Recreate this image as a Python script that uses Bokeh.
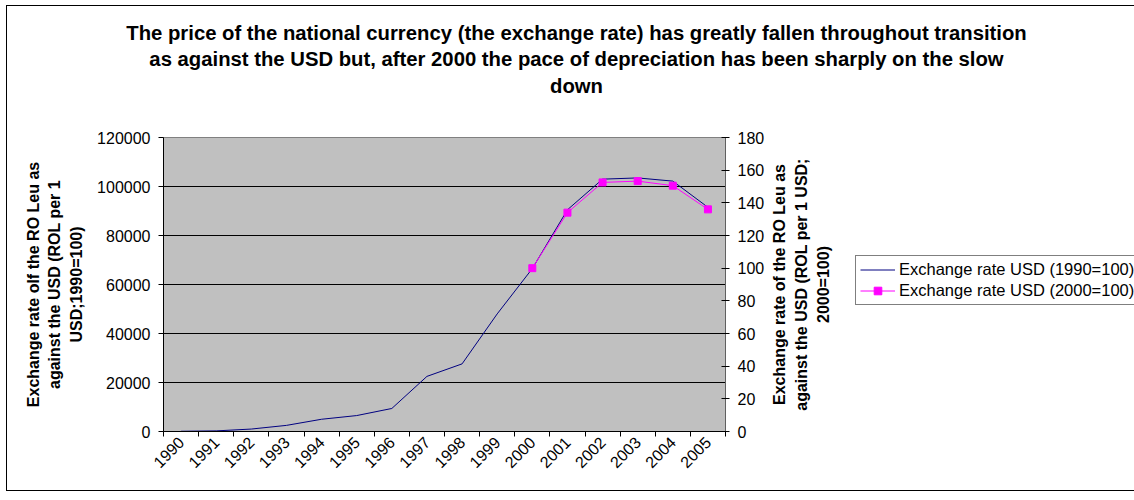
import math
from bokeh.plotting import figure
from bokeh.models import (Range1d, LinearAxis, FixedTicker, SingleIntervalTicker,
                          BasicTickFormatter, Label, Legend, LegendItem)
from bokeh.layouts import column, row
from bokeh.embed import file_html
from bokeh.resources import INLINE

# ---------------- data ----------------
years = [1990, 1991, 1992, 1993, 1994, 1995, 1996, 1997,
         1998, 1999, 2000, 2001, 2002, 2003, 2004, 2005]
usd_1990 = [100, 250, 1000, 2500, 5000, 6500, 9400, 22500,
            27600, 48000, 66500, 90500, 103000, 103500, 102200, 91500]
years_2000 = [2000, 2001, 2002, 2003, 2004, 2005]
usd_2000 = [100, 134, 152.5, 153.3, 150.5, 136]

title_text = ("The price of the national currency (the exchange rate) has greatly fallen throughout transition\n"
              "as against the USD but, after 2000 the pace of depreciation has been sharply on the slow\n"
              "down")
left_title = "Exchange rate olf the RO Leu as\nagainst the USD (ROL per 1\nUSD;1990=100)"
right_title = "Exchange rate of the RO Leu as\nagainst the USD (ROL per 1 USD;\n2000=100)"
name_1990 = "Exchange rate USD (1990=100)"
name_2000 = "Exchange rate USD (2000=100)"

FONT = "Liberation Sans"
NAVY = "#000080"
PINK = "#FF00FF"

# ---------------- title strip ----------------
top = figure(width=1127, height=119, x_range=Range1d(0, 1127), y_range=Range1d(0, 119),
             x_axis_type=None, y_axis_type=None, min_border=0,
             output_backend="svg", toolbar_location=None)
top.outline_line_color = None
top.grid.visible = False
top.add_layout(Label(x=569, y=104, text=title_text, text_align="center", text_baseline="top",
                     text_font=FONT, text_font_size="20.3px", text_font_style="bold",
                     text_line_height=1.22, text_color="#000000"))

# ---------------- main chart ----------------
p = figure(width=760, height=365,
           min_border_left=156, min_border_right=41,
           min_border_top=12, min_border_bottom=59,
           x_range=Range1d(years[0] - 0.5, years[-1] + 0.5),
           y_range=Range1d(0, 120000),
           output_backend="svg", toolbar_location=None)
p.background_fill_color = "#C0C0C0"
p.border_fill_color = "white"
p.outline_line_color = "#808080"
p.outline_line_width = 1
p.extra_y_ranges = {"r": Range1d(0, 180)}

bounds = [y - 0.5 for y in years] + [years[-1] + 0.5]
xa = p.xaxis[0]
xa.ticker = FixedTicker(ticks=years, minor_ticks=bounds)
xa.major_tick_out = 0
xa.major_tick_in = 0
xa.minor_tick_out = 5
xa.minor_tick_in = 0
xa.minor_tick_line_color = "#000000"
xa.axis_line_color = "#000000"
xa.major_label_orientation = math.pi / 4
xa.major_label_text_font = FONT
xa.major_label_text_font_size = "16px"
xa.major_label_text_color = "#000000"
xa.major_label_standoff = 3

ya = p.yaxis[0]
ya.ticker = SingleIntervalTicker(interval=20000)
ya.formatter = BasicTickFormatter(use_scientific=False)
ya.major_tick_out = 5
ya.major_tick_in = 0
ya.minor_tick_out = 0
ya.minor_tick_in = 0
ya.axis_line_color = "#000000"
ya.major_label_text_font = FONT
ya.major_label_text_font_size = "16px"
ya.major_label_text_color = "#000000"
ya.major_label_standoff = 8
ya.axis_label = left_title
ya.axis_label_text_font = FONT
ya.axis_label_text_font_size = "16px"
ya.axis_label_text_font_style = "bold"
ya.axis_label_text_color = "#000000"
ya.axis_label_text_line_height = 1.28
ya.axis_label_standoff = 9

ra = LinearAxis(y_range_name="r", ticker=SingleIntervalTicker(interval=20))
ra.major_tick_out = 4
ra.major_tick_in = 4
ra.minor_tick_out = 0
ra.minor_tick_in = 0
ra.axis_line_color = "#606060"
ra.major_tick_line_color = "#000000"
ra.major_label_text_font = FONT
ra.major_label_text_font_size = "16px"
ra.major_label_text_color = "#000000"
ra.major_label_standoff = 8
p.add_layout(ra, "right")

p.xgrid.visible = False
p.ygrid.ticker = SingleIntervalTicker(interval=20000)
p.ygrid.grid_line_color = "#000000"
p.ygrid.grid_line_width = 1

p.line(years, usd_1990, line_color=NAVY, line_width=1)
p.line(years_2000, usd_2000, line_color=PINK, line_width=1, y_range_name="r")
p.scatter(years_2000, usd_2000, marker="square", size=7, fill_color=PINK,
          line_color=PINK, y_range_name="r")

# ---------------- right strip: right-axis title + legend ----------------
# frame aligned with the main chart's frame (same top/bottom borders)
side = figure(width=367, height=365, x_range=Range1d(0, 367), y_range=Range1d(0, 294),
              x_axis_type=None, y_axis_type=None,
              min_border_left=0, min_border_right=0, min_border_top=12, min_border_bottom=59,
              output_backend="svg", toolbar_location=None)
side.outline_line_color = None
side.grid.visible = False
side.add_layout(Label(x=34, y=147, text=right_title, angle=math.pi / 2,
                      text_align="center", text_baseline="middle", text_font=FONT,
                      text_font_size="16px", text_font_style="bold",
                      text_line_height=1.28, text_color="#000000"))
# legend keys: same series, their values fall outside this strip's ranges
k1 = side.line(years, usd_1990, line_color=NAVY, line_width=1)
k2 = side.line(years_2000, usd_2000, line_color=PINK, line_width=1)
k3 = side.scatter(years_2000, usd_2000, marker="square", size=7, fill_color=PINK, line_color=PINK)
legend = Legend(items=[LegendItem(label=name_1990, renderers=[k1]),
                       LegendItem(label=name_2000, renderers=[k2, k3])],
                location=(88, 126), orientation="vertical")
legend.border_line_color = "#000000"
legend.border_line_width = 1
legend.background_fill_color = "white"
legend.background_fill_alpha = 1
legend.label_text_font = FONT
legend.label_text_font_size = "16.5px"
legend.label_text_color = "#000000"
legend.glyph_width = 35
legend.glyph_height = 19
legend.label_height = 19
legend.spacing = 2
legend.padding = 4
legend.margin = 0
legend.label_standoff = 4
side.add_layout(legend, "center")

page = column(top, row(p, side, spacing=0), spacing=0)
page.styles = {"margin-left": "6px", "margin-top": "5px",
               "border-left": "1px solid #000", "border-top": "1px solid #000",
               "border-bottom": "1px solid #000"}

open("out.html", "w").write(file_html(page, INLINE))
